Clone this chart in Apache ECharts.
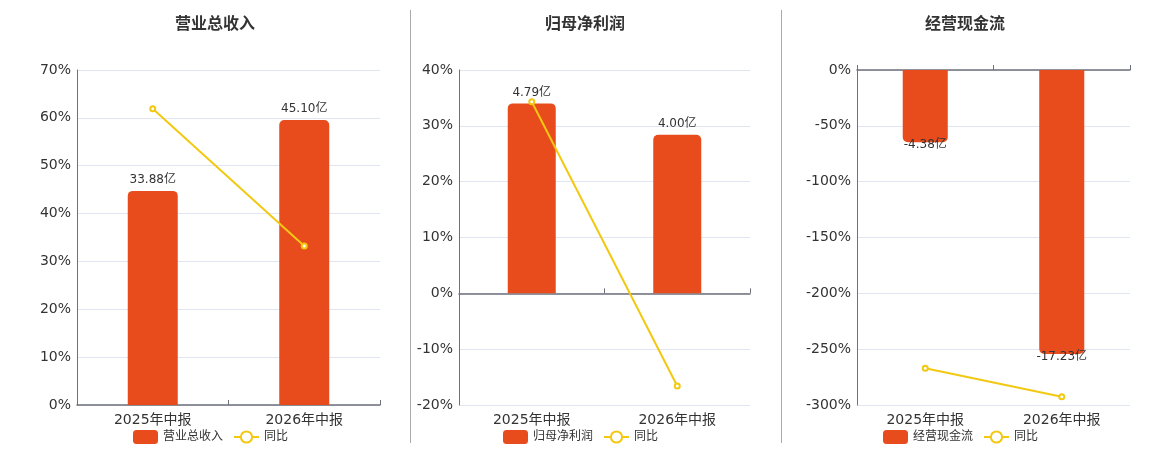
<!DOCTYPE html>
<html>
<head>
<meta charset="utf-8">
<script src="https://cdn.jsdelivr.net/npm/echarts@6/dist/echarts.min.js"></script>
<style>
  html, body { margin: 0; padding: 0; background: #fff; }
  #main { width: 1160px; height: 450px; }
</style>
</head>
<body>
<div id="main"></div>
<script>
// 报告期
const periods = ['2025年中报', '2026年中报'];

// 三个面板的标题
const titles = ['营业总收入', '归母净利润', '经营现金流'];

// 金额（亿）
const revenue = [33.88, 45.10];
const netProfit = [4.79, 4.00];
const cashFlow = [-4.38, -17.23];

// 同比（%）
const revenueYoy = [61.9, 33.2];
const netProfitYoy = [34.3, -16.6];
const cashFlowYoy = [-267.1, -292.6];

// 左轴刻度范围
const pctMin = [0, -20, -300];
const pctMax = [70, 40, 0];
const pctStep = [10, 10, 50];

// 隐藏的金额轴范围（与百分比轴对齐）
const amtMin = [0, -2.816, -20.32];
const amtMax = [53.01, 5.632, 0];

const BAR = '#E84C1D';
const LINE = '#F2C811';
const FONT = 'DejaVu Sans, Noto Sans CJK SC, sans-serif';

const amounts = [revenue, netProfit, cashFlow];
const yoys = [revenueYoy, netProfitYoy, cashFlowYoy];

const grids = [
  { left: 77, top: 70, width: 303, height: 335 },
  { left: 459, top: 70, width: 291, height: 335 },
  { left: 857, top: 70, width: 273, height: 335 }
];
const centers = [210, 580, 960];
const legendLeft = [133, 503, 883];

const chart = echarts.init(document.getElementById('main'));

const xAxis = [];
const yAxis = [];
const series = [];
const legend = [];
const title = [];

grids.forEach((g, i) => {
  // 带标签的分类轴
  xAxis.push({
    type: 'category', gridIndex: i, data: periods,
    axisLine: { show: false, onZero: false },
    axisTick: { show: false },
    axisLabel: { color: '#333', fontSize: 14, fontFamily: FONT, margin: 8 }
  });
  // 零线
  xAxis.push({
    type: 'category', gridIndex: i, data: periods,
    axisLine: { onZero: true, onZeroAxisIndex: i * 2, lineStyle: { color: '#6E7079', width: 1.5 } },
    axisTick: { show: true, lineStyle: { color: '#6E7079' } },
    axisLabel: { show: false }
  });
  yAxis.push({
    type: 'value', gridIndex: i,
    min: pctMin[i], max: pctMax[i], interval: pctStep[i],
    axisLine: { show: true, lineStyle: { color: '#6E7079' } },
    axisTick: { show: false },
    splitLine: { lineStyle: { color: '#E0E6F1' } },
    axisLabel: { color: '#333', fontSize: 14, fontFamily: FONT, margin: 6, formatter: '{value}%' }
  });
  yAxis.push({
    type: 'value', gridIndex: i, show: false,
    min: amtMin[i], max: amtMax[i],
    splitLine: { show: false }
  });

  const neg = amounts[i][0] < 0;
  series.push({
    name: titles[i], type: 'bar',
    xAxisIndex: i * 2, yAxisIndex: i * 2 + 1,
    data: amounts[i], barWidth: '33%',
    itemStyle: { color: BAR, borderRadius: neg ? [0, 0, 5, 5] : [5, 5, 0, 0] },
    label: {
      show: true, position: neg ? 'bottom' : 'top', distance: neg ? -3 : 5,
      color: '#333', fontSize: 12, fontFamily: FONT,
      formatter: p => p.value.toFixed(2) + '亿'
    }
  });
  series.push({
    name: '同比', type: 'line',
    xAxisIndex: i * 2, yAxisIndex: i * 2,
    data: yoys[i],
    symbol: 'emptyCircle', symbolSize: 5,
    lineStyle: { color: LINE, width: 2 },
    itemStyle: { color: LINE },
    z: 5
  });

  legend.push({
    data: [titles[i], '同比'],
    left: legendLeft[i] - 5, top: 425,
    itemWidth: 25, itemHeight: 14, itemGap: 10,
    textStyle: { color: '#333', fontSize: 12, fontFamily: FONT }
  });
  title.push({
    text: titles[i], left: centers[i], top: 12, textAlign: 'center',
    textStyle: { color: '#333', fontSize: 16, fontWeight: 'bold', fontFamily: FONT }
  });
});

chart.setOption({
  animation: false,
  title: title,
  legend: legend,
  grid: grids,
  xAxis: xAxis,
  yAxis: yAxis,
  series: series,
  graphic: [410, 781].map(x => ({
    type: 'line', shape: { x1: x + 0.5, y1: 10, x2: x + 0.5, y2: 443 },
    style: { stroke: '#AAAAAA', lineWidth: 1 }
  }))
});
</script>
</body>
</html>
